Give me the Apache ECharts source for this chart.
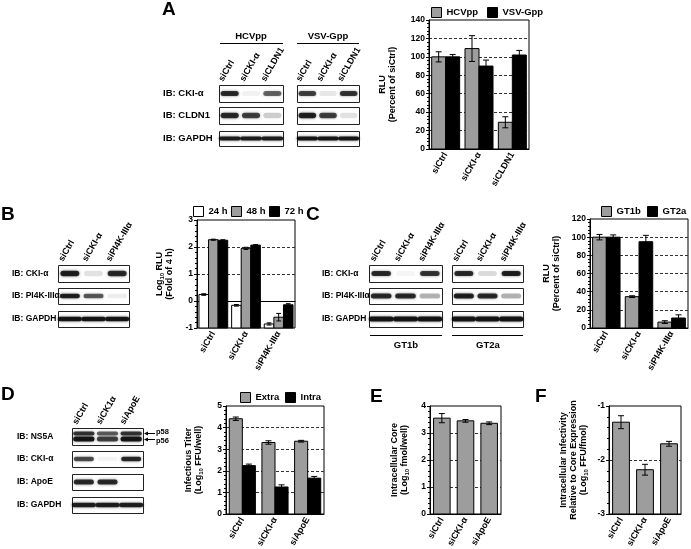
<!DOCTYPE html>
<html><head><meta charset="utf-8">
<script src="https://cdn.jsdelivr.net/npm/echarts@6/dist/echarts.min.js"></script>
<style>html,body{margin:0;padding:0;background:#fff}#c{width:691px;height:549px}</style>
</head><body><div id="c"></div>
<script>
// ---------------- DATA ----------------
// Panel A
const catsA = ['siCtrl', 'siCKI-α', 'siCLDN1'];
const hcvppA = [100, 109, 29];
const hcvppAErr = [5.5, 14, 6];
const vsvgppA = [100, 90, 102];
const vsvgppAErr = [2.5, 6.5, 5];
// Panel B
const catsB = ['siCtrl', 'siCKI-α', 'siPI4K-IIIα'];
const h24B = [0.24, -0.16, -0.85];
const h24BErr = [0.03, 0.03, 0.04];
const h48B = [2.27, 1.95, -0.6];
const h48BErr = [0.02, 0.04, 0.14];
const h72B = [2.25, 2.07, -0.14];
const h72BErr = [0.02, 0.02, 0.04];
// Panel C
const catsC = ['siCtrl', 'siCKI-α', 'siPI4K-IIIα'];
const gt1bC = [100, 34.5, 6.5];
const gt1bCErr = [3, 1, 1.5];
const gt2aC = [100, 95, 11];
const gt2aCErr = [2.5, 7, 3.5];
// Panel D
const catsD = ['siCtrl', 'siCKI-α', 'siApoE'];
const extraD = [4.41, 3.31, 3.37];
const extraDErr = [0.08, 0.08, 0.04];
const intraD = [2.24, 1.25, 1.66];
const intraDErr = [0.07, 0.1, 0.08];
// Panel E
const catsE = ['siCtrl', 'siCKI-α', 'siApoE'];
const coreE = [3.55, 3.45, 3.36];
const coreEErr = [0.17, 0.05, 0.05];
// Panel F
const catsF = ['siCtrl', 'siCKI-α', 'siApoE'];
const infF = [-1.3, -2.18, -1.7];
const infFErr = [0.12, 0.1, 0.045];

// Western blot band intensities (0..1), one value per lane
const lanesA = ['siCtrl', 'siCKI-α', 'siCLDN1'];
const rowsA = ['IB: CKI-α', 'IB: CLDN1', 'IB: GAPDH'];
const ckiA_HCV = [0.85, 0.06, 0.6];
const cldnA_HCV = [0.85, 0.75, 0.2];
const gapdhA_HCV = [0.9, 0.9, 0.9];
const ckiA_VSV = [0.75, 0.1, 0.8];
const cldnA_VSV = [0.9, 0.75, 0.12];
const gapdhA_VSV = [0.95, 0.95, 0.95];
const lanesB = ['siCtrl', 'siCKI-α', 'siPI4K-IIIα'];
const rowsB = ['IB: CKI-α', 'IB: PI4K-IIIα', 'IB: GAPDH'];
const ckiB = [0.9, 0.12, 0.85];
const pi4kB = [0.9, 0.65, 0.08];
const gapdhB = [0.95, 0.95, 0.95];
const ckiC1 = [0.85, 0.04, 0.8];
const pi4kC1 = [0.85, 0.85, 0.3];
const gapdhC1 = [0.95, 0.95, 0.95];
const ckiC2 = [0.85, 0.15, 0.9];
const pi4kC2 = [0.9, 0.85, 0.3];
const gapdhC2 = [0.95, 0.95, 0.95];
const lanesD = ['siCtrl', 'siCK1α', 'siApoE'];
const rowsD = ['IB: NS5A', 'IB: CKI-α', 'IB: ApoE', 'IB: GAPDH'];
const ns5aD = [0.95, 0.75, 0.95];
const ckiD = [0.7, 0.05, 0.85];
const apoeD = [0.85, 0.85, 0];
const gapdhD = [0.9, 0.9, 0.9];

// ---------------- HELPERS ----------------
const FONT = '"Liberation Sans", Arial, sans-serif';
const GRAY = '#9d9d9d';

function barSeries(name, color, vals, errs, gi, k, n, gap, base) {
  return {
    type: 'custom', name: name, xAxisIndex: gi, yAxisIndex: gi,
    itemStyle: { color: color },
    data: vals.map((v, i) => [i, v, errs[i]]),
    encode: { x: 0, y: 1 },
    renderItem: function (params, api) {
      const i = api.value(0), v = api.value(1), e = api.value(2);
      const band = api.size([1, 0])[0];
      const gw = band * (1 - gap);
      const bw = gw / n;
      const c = api.coord([i, v]);
      const x0 = c[0] - gw / 2 + k * bw;
      const yb = api.coord([i, base])[1];
      const yh = api.coord([i, v + e])[1], yl = api.coord([i, v - e])[1];
      const xm = x0 + bw / 2, hw = Math.min(3, bw * 0.25);
      const ls = { stroke: '#000', lineWidth: 1 };
      return { type: 'group', children: [
        { type: 'rect', shape: { x: x0, y: c[1], width: bw, height: yb - c[1] }, style: { fill: color, stroke: '#000', lineWidth: 1 } },
        { type: 'line', shape: { x1: xm, y1: yh, x2: xm, y2: yl }, style: ls },
        { type: 'line', shape: { x1: xm - hw, y1: yh, x2: xm + hw, y2: yh }, style: ls },
        { type: 'line', shape: { x1: xm - hw, y1: yl, x2: xm + hw, y2: yl }, style: ls }
      ] };
    }
  };
}

const nameRich = { sub: { fontSize: 6, fontWeight: 'bold', fontFamily: FONT, verticalAlign: 'bottom', color: '#000' } };
function yAx(gi, min, max, interval, name, gap) {
  return {
    type: 'value', gridIndex: gi, min: min, max: max, interval: interval,
    name: name, nameLocation: 'middle', nameGap: gap, nameRotate: 90,
    nameTextStyle: { fontSize: 9, fontWeight: 'bold', color: '#000', fontFamily: FONT, lineHeight: 10, rich: nameRich },
    axisLine: { show: true, lineStyle: { color: '#000', width: 1 } },
    axisTick: { show: true, length: 3, lineStyle: { color: '#000' } },
    minorTick: { show: true, splitNumber: 5, length: 2, lineStyle: { color: '#000' } },
    axisLabel: { fontSize: 8.5, fontWeight: 'bold', color: '#000', fontFamily: FONT, margin: 4 },
    splitLine: { show: true, showMinLine: false, showMaxLine: false, lineStyle: { color: '#333', type: [3, 2], width: 1 } }
  };
}
function xAx(gi, cats) {
  return {
    type: 'category', gridIndex: gi, data: cats,
    axisLine: { show: true, lineStyle: { color: '#000', width: 1 } },
    axisTick: { show: false },
    axisLabel: { rotate: 60, interval: 0, fontSize: 9, fontWeight: 'bold', color: '#000', fontFamily: FONT, margin: 4 },
    splitLine: { show: false }
  };
}
function grid(l, t, w, h) {
  return { left: l, top: t, width: w, height: h, show: true, borderColor: '#000', borderWidth: 1, containLabel: false, outerBoundsMode: 'none' };
}
const legCommon = { padding: 0, itemWidth: 10, itemHeight: 10, icon: 'rect', selectedMode: false,
  itemStyle: { borderColor: '#000', borderWidth: 1 },
  textStyle: { fontSize: 9.5, fontWeight: 'bold', color: '#000', fontFamily: FONT } };
function leg(name, l, t) { return Object.assign({ data: [name], left: l, top: t }, legCommon); }

function txt(s, x, y, size, opt) {
  opt = opt || {};
  return { type: 'text', x: x, y: y, rotation: opt.rot || 0, z: 10,
    style: { text: s, fill: '#000', font: 'bold ' + size + 'px ' + FONT, align: opt.align || 'left', verticalAlign: opt.va || 'middle' } };
}
function band(cx, cy, w, h, v) {
  return { type: 'rect', shape: { x: cx - w / 2, y: cy - h / 2, width: w, height: h, r: h / 2 }, z: 5,
    style: { fill: 'rgba(0,0,0,' + (v * 0.9).toFixed(3) + ')', shadowBlur: 3, shadowColor: 'rgba(0,0,0,' + (v * 0.7).toFixed(3) + ')' } };
}
// rows: [[y0, y1, intensities, bandHeight, widthFrac, doublet]]
function blot(x, w, rows, lanes) {
  const els = [];
  const lw = w / 3;
  rows.forEach(r => {
    const y0 = r[0], y1 = r[1], vals = r[2], bh = r[3], wf = r[4], dbl = r[5];
    els.push({ type: 'rect', shape: { x: x + 0.5, y: y0 + 0.5, width: w, height: y1 - y0 }, z: 4, style: { fill: '#fff', stroke: '#222', lineWidth: 1 } });
    vals.forEach((v, i) => {
      if (v < 0.02) return;
      const cx = x + (i + 0.5) * lw;
      const cy = (y0 + y1) / 2;
      if (dbl) {
        els.push(band(cx, cy - 3, lw * wf, 4, v * 0.85));
        els.push(band(cx, cy + 2.5, lw * wf, 5, v));
      } else {
        els.push(band(cx, cy, lw * wf, bh, v));
      }
    });
  });
  if (lanes) {
    lanes.forEach((s, i) => {
      els.push(txt(s, x + (i + 0.5) * lw - 5, rows[0][0] - 2, 9, { rot: Math.PI / 3, va: 'bottom' }));
    });
  }
  return els;
}
function rowLabels(labels, x, rows, size) {
  return labels.map((s, i) => txt(s, x, (rows[i][0] + rows[i][1]) / 2, size));
}
function hline(x1, x2, y) {
  return { type: 'line', shape: { x1: x1, y1: y, x2: x2, y2: y }, style: { stroke: '#000', lineWidth: 1 } };
}

// ---------------- LAYOUT ----------------
const rA = [[85, 102], [107, 124], [131, 146]];
const rB = [[265, 282], [288, 304], [311, 327]];
const rD = [[428, 445], [451, 467], [474, 490], [497, 513]];

let graphics = [];
graphics.push(txt('A', 162, 10, 19));
graphics.push(txt('B', 1, 215, 19));
graphics.push(txt('C', 306, 215, 19));
graphics.push(txt('D', 1, 395, 19));
graphics.push(txt('E', 370, 397, 19));
graphics.push(txt('F', 535, 397, 19));

// A blots
graphics.push(txt('HCVpp', 251, 36, 9.5, { align: 'center' }));
graphics.push(hline(220, 283, 43.5));
graphics.push(txt('VSV-Gpp', 328, 36, 9.5, { align: 'center' }));
graphics.push(hline(297, 359, 43.5));
graphics = graphics.concat(rowLabels(rowsA, 163, rA, 9.5));
graphics = graphics.concat(blot(219, 64, [[85, 102, ckiA_HCV, 5, 0.85], [107, 124, cldnA_HCV, 5.5, 0.85], [131, 146, gapdhA_HCV, 4, 1.02]], lanesA));
graphics = graphics.concat(blot(297, 62, [[85, 102, ckiA_VSV, 5, 0.85], [107, 124, cldnA_VSV, 5.5, 0.85], [131, 146, gapdhA_VSV, 4, 1.02]], lanesA));

// B blots
graphics = graphics.concat(rowLabels(rowsB, 12, rB, 8.5));
graphics = graphics.concat(blot(58, 71, [[265, 282, ckiB, 5.5, 0.8], [288, 304, pi4kB, 4.5, 0.85], [311, 327, gapdhB, 4.5, 1.02]], lanesB));

// C blots
graphics = graphics.concat(rowLabels(rowsB, 322, rB, 8.5));
graphics = graphics.concat(blot(369, 73, [[265, 282, ckiC1, 5, 0.8], [288, 304, pi4kC1, 5, 0.85], [311, 327, gapdhC1, 5, 1.02]], lanesB));
graphics = graphics.concat(blot(452, 71, [[265, 282, ckiC2, 5, 0.8], [288, 304, pi4kC2, 5, 0.85], [311, 327, gapdhC2, 5, 1.02]], lanesB));
graphics.push(hline(370, 442, 335.5));
graphics.push(hline(452, 523, 335.5));
graphics.push(txt('GT1b', 406, 345, 9.5, { align: 'center' }));
graphics.push(txt('GT2a', 488, 345, 9.5, { align: 'center' }));

// D blots
graphics = graphics.concat(rowLabels(rowsD, 17, rD, 8.5));
graphics = graphics.concat(blot(72, 71, [[428, 445, ns5aD, 8, 0.9, true], [451, 467, ckiD, 4.5, 0.85], [474, 490, apoeD, 5, 0.85], [497, 513, gapdhD, 4.5, 1.02]], lanesD));
graphics.push(hline(155, 146, 433.5));
graphics.push({ type: 'polygon', shape: { points: [[144, 433.5], [148, 431.5], [148, 435.5]] }, style: { fill: '#000' } });
graphics.push(hline(155, 146, 439.5));
graphics.push({ type: 'polygon', shape: { points: [[144, 439.5], [148, 437.5], [148, 441.5]] }, style: { fill: '#000' } });
graphics.push(txt('p58', 156, 432, 7.5));
graphics.push(txt('p56', 156, 441, 7.5));

// ---------------- CHART ----------------
const chart = echarts.init(document.getElementById('c'), null, { renderer: 'canvas' });
chart.setOption({
  animation: false,
  backgroundColor: '#fff',
  textStyle: { fontFamily: FONT },
  grid: [grid(429, 20, 100, 129), grid(197, 220, 98, 108), grid(590, 219, 98, 109),
         grid(226, 406, 98, 108), grid(430, 406, 71, 108), grid(609, 406, 72, 108)],
  xAxis: [xAx(0, catsA), xAx(1, catsB), xAx(2, catsC), xAx(3, catsD), xAx(4, catsE), xAx(5, catsF)],
  yAxis: [
    yAx(0, 0, 140, 20, 'RLU\n(Percent of siCtrl)', 31),
    yAx(1, -1, 3, 1, 'Log{sub|10} RLU\n(Fold of 4 h)', 22),
    yAx(2, 0, 120, 20, 'RLU\n(Percent of siCtrl)', 28),
    yAx(3, 0, 5, 1, 'Infectious Titer\n(Log{sub|10} FFU/well)', 22),
    yAx(4, 0, 4, 1, 'Intracellular Core\n(Log{sub|10} fmol/well)', 20),
    yAx(5, -3, -1, 1, 'Intracellular Infectivity\nRelative to Core Expression\n(Log{sub|10} FFU/fmol)', 20)
  ],
  legend: [
    leg('HCVpp', 431, 7), leg('VSV-Gpp', 487, 7),
    leg('24 h', 193, 206), leg('48 h', 231, 206), leg('72 h', 269, 206),
    leg('GT1b', 601, 206), leg('GT2a', 647, 206),
    leg('Extra', 240, 392), leg('Intra', 285, 392)
  ],
  series: [
    barSeries('HCVpp', GRAY, hcvppA, hcvppAErr, 0, 0, 2, 0.16, 0),
    barSeries('VSV-Gpp', '#000', vsvgppA, vsvgppAErr, 0, 1, 2, 0.16, 0),
    barSeries('24 h', '#fff', h24B, h24BErr, 1, 0, 3, 0.12, -1),
    barSeries('48 h', GRAY, h48B, h48BErr, 1, 1, 3, 0.12, -1),
    barSeries('72 h', '#000', h72B, h72BErr, 1, 2, 3, 0.12, -1),
    barSeries('GT1b', GRAY, gt1bC, gt1bCErr, 2, 0, 2, 0.16, 0),
    barSeries('GT2a', '#000', gt2aC, gt2aCErr, 2, 1, 2, 0.16, 0),
    barSeries('Extra', GRAY, extraD, extraDErr, 3, 0, 2, 0.2, 0),
    barSeries('Intra', '#000', intraD, intraDErr, 3, 1, 2, 0.2, 0),
    barSeries('Core', GRAY, coreE, coreEErr, 4, 0, 1, 0.3, 0),
    barSeries('Infectivity', GRAY, infF, infFErr, 5, 0, 1, 0.3, -3)
  ],
  graphic: graphics
});
</script></body></html>
